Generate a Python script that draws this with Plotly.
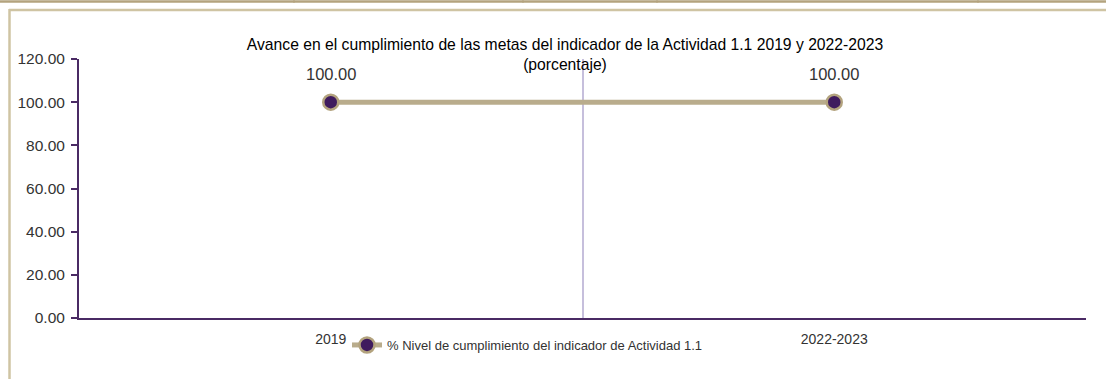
import plotly.graph_objects as go

categories = ["2019", "2022-2023"]
values = [100.00, 100.00]
series_name = "% Nivel de cumplimiento del indicador de Actividad 1.1"
title_lines = ["Avance en el cumplimiento de las metas del indicador de la Actividad 1.1 2019 y 2022-2023", "(porcentaje)"]
y_ticks = [0, 20, 40, 60, 80, 100, 120]

W, H = 1106, 379
L, R, T, B = 79, 20, 59, 61
PW, PH = W - L - R, H - T - B

def px(x):
    return (x - L) / PW

def py(y):
    return (H - B - y) / PH

TAN = "#b3a37e"
TAN2 = "#cfc4a3"
PURPLE = "#4a2a64"
MARK = "#3f1b5e"
LAV = "#c6bfdc"
FONT = "Liberation Sans, Arial, sans-serif"

fig = go.Figure()
fig.add_trace(go.Scatter(
    x=categories, y=values, name=series_name,
    mode="lines+markers",
    line=dict(color="#b9ac8c", width=5),
    marker=dict(size=15, color=MARK, line=dict(color=TAN, width=2.5)),
    cliponaxis=False,
))

annotations = []
for i, v in enumerate(values):
    annotations.append(dict(x=i, y=v, xref="x", yref="y", text=f"{v:.2f}", showarrow=False,
                            yshift=28, font=dict(family=FONT, size=16.5, color="#333333")))

shapes = []
# decorative frame lines
shapes.append(dict(type="line", xref="paper", yref="paper", x0=px(0), x1=px(W), y0=py(1.5), y1=py(1.5), line=dict(color=TAN, width=2.5)))
shapes.append(dict(type="line", xref="paper", yref="paper", x0=px(9), x1=px(W), y0=py(10), y1=py(10), line=dict(color=TAN2, width=2.5)))
shapes.append(dict(type="line", xref="paper", yref="paper", x0=px(9.5), x1=px(9.5), y0=py(9), y1=py(H), line=dict(color=TAN2, width=2.5)))
for tx in [294, 523, 657, 978]:
    shapes.append(dict(type="line", xref="paper", yref="paper", x0=px(tx), x1=px(tx), y0=py(0), y1=py(3), line=dict(color=TAN, width=1)))

fig.update_layout(
    width=W, height=H,
    margin=dict(l=L, r=R, t=T, b=B),
    paper_bgcolor="white", plot_bgcolor="white",
    font=dict(family=FONT, color="#333333", size=14),
    title=dict(text="<br>".join(title_lines), x=565 / W, xanchor="center", y=1 - 49.5 / H, yanchor="top",
               font=dict(family=FONT, size=15.7, color="black")),
    showlegend=True,
    legend=dict(orientation="h", x=px(347), xanchor="left", y=py(330), yanchor="top",
                font=dict(family=FONT, size=13, color="#333333"), bgcolor="rgba(0,0,0,0)",
                itemwidth=30),
    xaxis=dict(type="category", range=[-0.5, 1.5], tickson="boundaries", showgrid=True,
               gridcolor=LAV, gridwidth=2, showline=True, linecolor=PURPLE, linewidth=2,
               ticks="", tickfont=dict(size=14, color="#333333"), zeroline=False,
               ticklabelstandoff=7),
    yaxis=dict(range=[0, 120], tickvals=y_ticks, ticktext=[f"{v:.2f}" for v in y_ticks],
               showgrid=False, zeroline=False, showline=True, linecolor=PURPLE, linewidth=2,
               ticks="outside", ticklen=6, tickcolor=PURPLE, tickwidth=2,
               tickfont=dict(size=15.5, color="#333333"), ticklabelstandoff=3),
    shapes=shapes,
    annotations=annotations,
)

fig.write_html("out.html", config={"displayModeBar": False},
               post_script="document.body.style.margin='0px';document.body.style.padding='0px';")
